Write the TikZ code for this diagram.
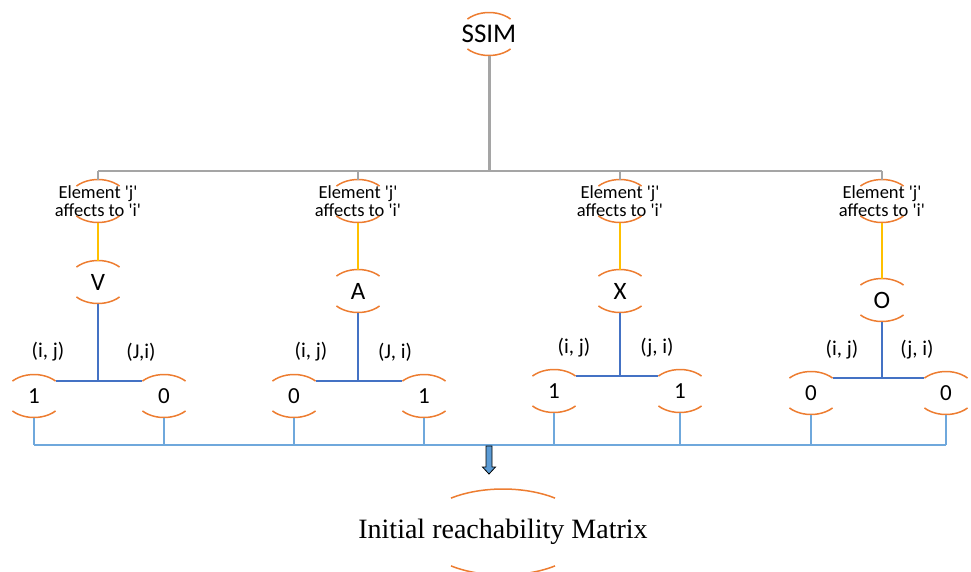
\documentclass[tikz,border=0pt]{standalone}
\usepackage{fontspec}
\newfontfamily\lblfont{Carlito}
\newfontfamily\matrixfont{Liberation Serif}
\usetikzlibrary{calc}

\definecolor{caporange}{HTML}{ED7D31}
\definecolor{stemgray}{HTML}{A5A5A5}
\definecolor{linkyellow}{HTML}{FFC000}
\definecolor{branchblue}{HTML}{4472C4}
\definecolor{feedblue}{HTML}{6FA8DC}
\definecolor{arrowfill}{HTML}{5B9BD5}

% a node shown by two orange caps, one above and one below its text
\newcommand\capnode[3]{%
  \draw[capline] ([shift={(#3:#2)}]#1.center)
    arc[start angle=#3, end angle={180-#3}, x radius={\rxval}, y radius={\ryval}];
  \draw[capline] ([shift={(180+#3:#2)}]#1.center)
    arc[start angle={180+#3}, end angle={360-#3}, x radius={\rxval}, y radius={\ryval}];}
\newcommand\smallcaps[1]{\def\rxval{30}\def\ryval{21.5}\capnode{#1}{30 and 21.5}{44}}

\begin{document}
\begin{tikzpicture}[x=1pt,y=1pt,
  capline/.style={caporange, line width=1.5pt},
  headtxt/.style={inner sep=0pt, font=\lblfont\fontsize{27}{29}\selectfont},
  elemtxt/.style={inner sep=0pt, align=center, font=\lblfont\fontsize{18.5}{18.5}\selectfont},
  lettertxt/.style={inner sep=0pt, font=\lblfont\fontsize{25}{27}\selectfont},
  digittxt/.style={inner sep=0pt, font=\lblfont\fontsize{23}{25}\selectfont},
  pairtxt/.style={inner sep=0pt, font=\lblfont\fontsize{21}{23}\selectfont},
  stem/.style={stemgray, line width=3pt},
  rail/.style={stemgray, line width=1.6pt},
  yellowlink/.style={linkyellow, line width=2.5pt},
  bluebar/.style={branchblue, line width=2.4pt},
  feed/.style={feedblue, line width=1.3pt}]
\useasboundingbox (0,0) rectangle (971,-571);

% top node
\node[headtxt] (ssim) at (489,-34) {SSIM};

% element nodes
\node[elemtxt] (e1) at (98,-201)  {Element 'j'\\affects to 'i'};
\node[elemtxt] (e2) at (358,-201) {Element 'j'\\affects to 'i'};
\node[elemtxt] (e3) at (620,-201) {Element 'j'\\affects to 'i'};
\node[elemtxt] (e4) at (882,-201) {Element 'j'\\affects to 'i'};

% relation symbols
\node[lettertxt] (l1) at (98,-282)  {V};
\node[lettertxt] (l2) at (358,-291) {A};
\node[lettertxt] (l3) at (620,-291) {X};
\node[lettertxt] (l4) at (882,-300) {O};

% entries
\node[digittxt] (c11) at (34,-396)  {1};
\node[digittxt] (c12) at (164,-396) {0};
\node[digittxt] (c21) at (294,-396) {0};
\node[digittxt] (c22) at (424,-396) {1};
\node[digittxt] (c31) at (554,-391) {1};
\node[digittxt] (c32) at (680,-391) {1};
\node[digittxt] (c41) at (811,-393) {0};
\node[digittxt] (c42) at (946,-393) {0};

% pair labels
\node[pairtxt] (p11) at (48,-352)  {(i, j)};
\node[pairtxt] (p12) at (141,-352) {(J,i)};
\node[pairtxt] (p21) at (311,-352) {(i, j)};
\node[pairtxt] (p22) at (395,-352) {(J, i)};
\node[pairtxt] (p31) at (574,-348) {(i, j)};
\node[pairtxt] (p32) at (657,-348) {(j, i)};
\node[pairtxt] (p41) at (842,-350) {(i, j)};
\node[pairtxt] (p42) at (917,-350) {(j, i)};

% result node
\node[inner sep=0pt, font=\matrixfont\fontsize{28}{30}\selectfont] (irm) at (503,-532)
  {Initial reachability Matrix};

% caps
\foreach \n in {ssim,e1,e2,e3,e4,l1,l2,l3,l4,c11,c12,c21,c22,c31,c32,c41,c42}
  {\smallcaps{\n}}
\def\rxval{84.5}\def\ryval{43}
\capnode{irm}{84.5 and 43}{52}

% stem and rail
\coordinate (rail) at (0,-171);
\draw[stem] ([yshift=-21.5]ssim.center) -- (ssim.center |- rail);
\draw[rail] (e1.center |- rail) -- (e4.center |- rail);
\foreach \n in {e1,e2,e3,e4}
  \draw[rail] (\n.center |- rail) -- ([yshift=21.5]\n.center);

% element to symbol
\foreach \i in {1,2,3,4}
  \draw[yellowlink] ([yshift=-21.5]e\i.center) -- ([yshift=21.5]l\i.center);

% branches to the entries
\foreach \i in {1,2,3,4} {
  \coordinate (h\i) at ([shift={(44:30 and 21.5)}]c\i1.center);
  \draw[bluebar] (h\i) -- ([shift={(136:30 and 21.5)}]c\i2.center);
  \draw[bluebar] ([yshift=-21.5]l\i.center) -- (l\i.center |- h\i);
}

% collecting line
\coordinate (base) at (0,-445);
\foreach \n in {c11,c12,c21,c22,c31,c32,c41,c42}
  \draw[feed] ([yshift=-21.5]\n.center) -- (\n.center |- base);
\draw[feed] (c11.center |- base) -- (c42.center |- base);

% down arrow into the result
\coordinate (arrtop) at (489,-446);
\draw[black, line width=0.8pt, fill=arrowfill, line join=miter]
  (arrtop) ++(-3,0) -- ++(0,-21) -- ++(-3.5,0) -- ++(6.5,-7) -- ++(6.5,7)
  -- ++(-3.5,0) -- ++(0,21) -- cycle;
\end{tikzpicture}
\end{document}
